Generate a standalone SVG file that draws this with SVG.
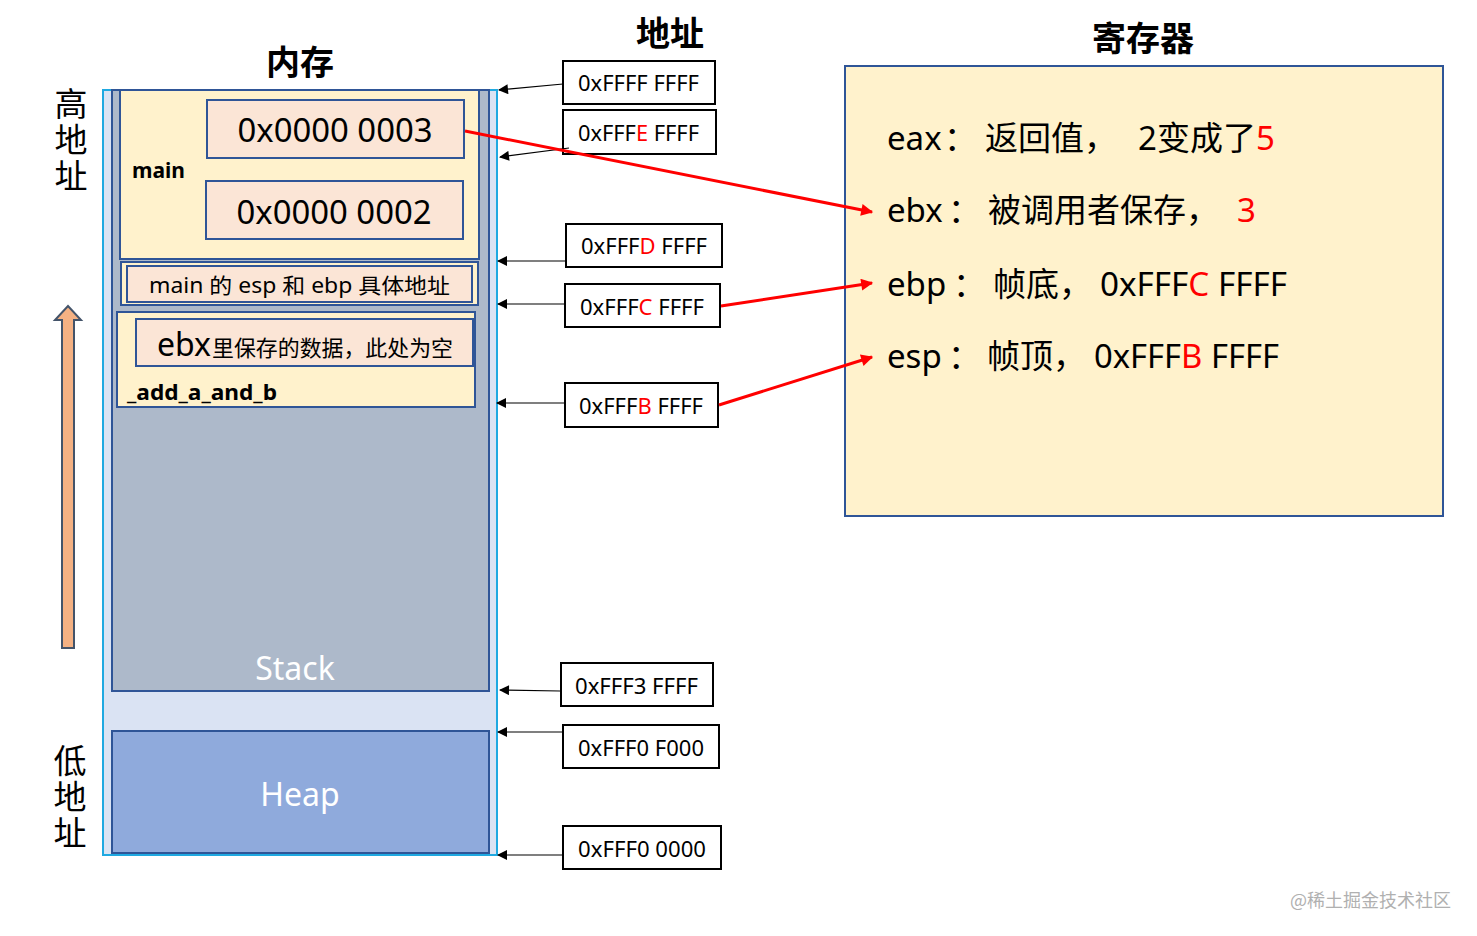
<svg xmlns="http://www.w3.org/2000/svg" width="1477" height="936" viewBox="0 0 1477 936">
<style>
.t{font-family:"Noto Sans","Noto Sans CJK SC",sans-serif;fill:#000}
.cjk{font-family:"Noto Sans CJK SC","Noto Sans",sans-serif;fill:#000}
.vert{font-family:"Noto Sans CJK SC",sans-serif;font-size:33px;fill:#000;writing-mode:vertical-rl;letter-spacing:3px}
.addr rect{fill:#fff;stroke:#000;stroke-width:2}
.addr text{font-family:"Noto Sans","Noto Sans CJK SC",sans-serif;font-size:22px;fill:#000}
.frame{fill:#FFF2CC;stroke:#2F5597;stroke-width:2}
.cell{fill:#FBE5D6;stroke:#2F5597;stroke-width:2}
.reg{font-family:"Noto Sans","Noto Sans CJK SC",sans-serif;font-size:33px;fill:#000}
.red{fill:#FF0000 !important}
</style>
<defs>
<marker id="ab" viewBox="0 0 10 10" refX="9" refY="5" markerWidth="12" markerHeight="10" markerUnits="userSpaceOnUse" orient="auto"><path d="M0,0 L10,5 L0,10 z" fill="#000"/></marker>
<marker id="ar" viewBox="0 0 10 10" refX="9" refY="5" markerWidth="5" markerHeight="4" orient="auto"><path d="M0,0 L10,5 L0,10 z" fill="#FF0000"/></marker>
</defs>
<rect width="1477" height="936" fill="#fff"/>

<g id="titles">
<text class="cjk" x="300" y="75" font-size="34" font-weight="bold" text-anchor="middle">内存</text>
<text class="cjk" x="670" y="46" font-size="34" font-weight="bold" text-anchor="middle">地址</text>
<text class="cjk" x="1143" y="51" font-size="34" font-weight="bold" text-anchor="middle">寄存器</text>
</g>

<g id="high-label">
<text class="vert" x="71" y="87">高地址</text>
</g>
<g id="low-label">
<text class="vert" x="70" y="744">低地址</text>
</g>

<g id="up-arrow">
<path d="M62,648 L62,320 L55,320 L68,306 L81,320 L74,320 L74,648 Z" fill="#F4B183" stroke="#44546A" stroke-width="2"/>
</g>

<g id="memory">
<rect x="103" y="90" width="394" height="765" fill="#DAE3F3" stroke="#1FA9E1" stroke-width="2"/>
</g>

<g id="stack">
<rect x="112" y="90" width="377" height="601" fill="#ADB9CA" stroke="#2F5597" stroke-width="2"/>
<text x="295" y="680" font-family="Noto Sans,sans-serif" font-size="32" fill="#fff" text-anchor="middle">Stack</text>
</g>

<g id="main-frame">
<rect class="frame" x="120" y="90" width="359" height="169"/>
<text class="t" x="132" y="178" font-size="21" font-weight="bold">main</text>
</g>
<g id="val3">
<rect class="cell" x="207" y="100" width="257" height="58"/>
<text class="t" x="335" y="142" font-size="33" text-anchor="middle" textLength="195" lengthAdjust="spacingAndGlyphs">0x0000 0003</text>
</g>
<g id="val2">
<rect class="cell" x="206" y="181" width="257" height="58"/>
<text class="t" x="334" y="224" font-size="33" text-anchor="middle" textLength="195" lengthAdjust="spacingAndGlyphs">0x0000 0002</text>
</g>

<g id="main-esp-ebp">
<rect class="frame" x="121" y="262" width="357" height="43"/>
<rect class="cell" x="127" y="266" width="345" height="36"/>
<text class="t" x="149" y="293" font-size="21" textLength="301" lengthAdjust="spacingAndGlyphs">main 的 esp 和 ebp 具体地址</text>
</g>

<g id="add-frame">
<rect class="frame" x="117" y="312" width="358" height="95"/>
<text class="t" x="127" y="400" font-size="21" font-weight="bold" textLength="150" lengthAdjust="spacingAndGlyphs">_add_a_and_b</text>
</g>
<g id="ebx-cell">
<rect class="cell" x="136" y="319" width="337" height="47"/>
<text class="t" x="157" y="356" font-size="32">ebx</text>
<text class="t" x="212" y="356" font-size="22" textLength="241" lengthAdjust="spacingAndGlyphs">里保存的数据，此处为空</text>
</g>

<g id="heap">
<rect x="112" y="731" width="377" height="122" fill="#8FAADC" stroke="#2F5597" stroke-width="2"/>
<text x="300" y="806" font-family="Noto Sans,sans-serif" font-size="32" fill="#fff" text-anchor="middle">Heap</text>
</g>

<g id="addr-ffff" class="addr"><rect x="563" y="61" width="152" height="43"/><text x="578" y="91" textLength="121" lengthAdjust="spacingAndGlyphs">0xFFFF FFFF</text></g>
<g id="addr-fffe" class="addr"><rect x="563" y="110" width="153" height="44"/><text x="578" y="141" textLength="121" lengthAdjust="spacingAndGlyphs">0xFFF<tspan class="red">E</tspan> FFFF</text></g>
<g id="addr-fffd" class="addr"><rect x="566" y="224" width="156" height="43"/><text x="581" y="254" textLength="126" lengthAdjust="spacingAndGlyphs">0xFFF<tspan class="red">D</tspan> FFFF</text></g>
<g id="addr-fffc" class="addr"><rect x="565" y="284" width="155" height="43"/><text x="580" y="315" textLength="124" lengthAdjust="spacingAndGlyphs">0xFFF<tspan class="red">C</tspan> FFFF</text></g>
<g id="addr-fffb" class="addr"><rect x="565" y="383" width="153" height="44"/><text x="579" y="414" textLength="124" lengthAdjust="spacingAndGlyphs">0xFFF<tspan class="red">B</tspan> FFFF</text></g>
<g id="addr-fff3" class="addr"><rect x="561" y="663" width="152" height="43"/><text x="575" y="694" textLength="123" lengthAdjust="spacingAndGlyphs">0xFFF3 FFFF</text></g>
<g id="addr-fff0f000" class="addr"><rect x="563" y="725" width="156" height="43"/><text x="578" y="756" textLength="126" lengthAdjust="spacingAndGlyphs">0xFFF0 F000</text></g>
<g id="addr-fff00000" class="addr"><rect x="563" y="826" width="158" height="43"/><text x="578" y="857" textLength="128" lengthAdjust="spacingAndGlyphs">0xFFF0 0000</text></g>

<g id="registers">
<rect x="845" y="66" width="598" height="450" fill="#FFF2CC" stroke="#2F5597" stroke-width="2"/>
<text class="reg" x="887" y="150">eax</text><text class="reg" x="944" y="150">：</text><text class="reg" x="985" y="150">返回值，</text><text class="reg" x="1138" y="150">2变成了<tspan class="red">5</tspan></text>
<text class="reg" x="887" y="222">ebx</text><text class="reg" x="948" y="222">：</text><text class="reg" x="988" y="222">被调用者保存，</text><text class="reg red" x="1237" y="222">3</text>
<text class="reg" x="887" y="296">ebp</text><text class="reg" x="953" y="296">：</text><text class="reg" x="993" y="296">帧底，</text><text class="reg" x="1100" y="296" textLength="187" lengthAdjust="spacingAndGlyphs">0xFFF<tspan class="red">C</tspan> FFFF</text>
<text class="reg" x="887" y="368">esp</text><text class="reg" x="948" y="368">：</text><text class="reg" x="987" y="368">帧顶，</text><text class="reg" x="1094" y="368" textLength="185" lengthAdjust="spacingAndGlyphs">0xFFF<tspan class="red">B</tspan> FFFF</text>
</g>

<g id="connectors" fill="none">
<g stroke="#000" stroke-width="1.2" marker-end="url(#ab)">
<line x1="563" y1="84" x2="499" y2="90"/>
<line x1="569" y1="148" x2="500" y2="157"/>
<line x1="565" y1="261" x2="498" y2="261"/>
<line x1="564" y1="304" x2="498" y2="304"/>
<line x1="564" y1="403" x2="497" y2="403"/>
<line x1="560" y1="691" x2="500" y2="690"/>
<line x1="562" y1="732" x2="498" y2="732"/>
<line x1="562" y1="855" x2="498" y2="855"/>
</g>
<g stroke="#FF0000" stroke-width="3" marker-end="url(#ar)">
<line x1="465" y1="131" x2="872" y2="212"/>
<line x1="721" y1="306" x2="872" y2="283"/>
<line x1="719" y1="405" x2="872" y2="357"/>
</g>
</g>

<text x="1290" y="907" font-family="Noto Sans CJK SC,sans-serif" font-size="18" fill="#b0b0b0">@稀土掘金技术社区</text>
</svg>
